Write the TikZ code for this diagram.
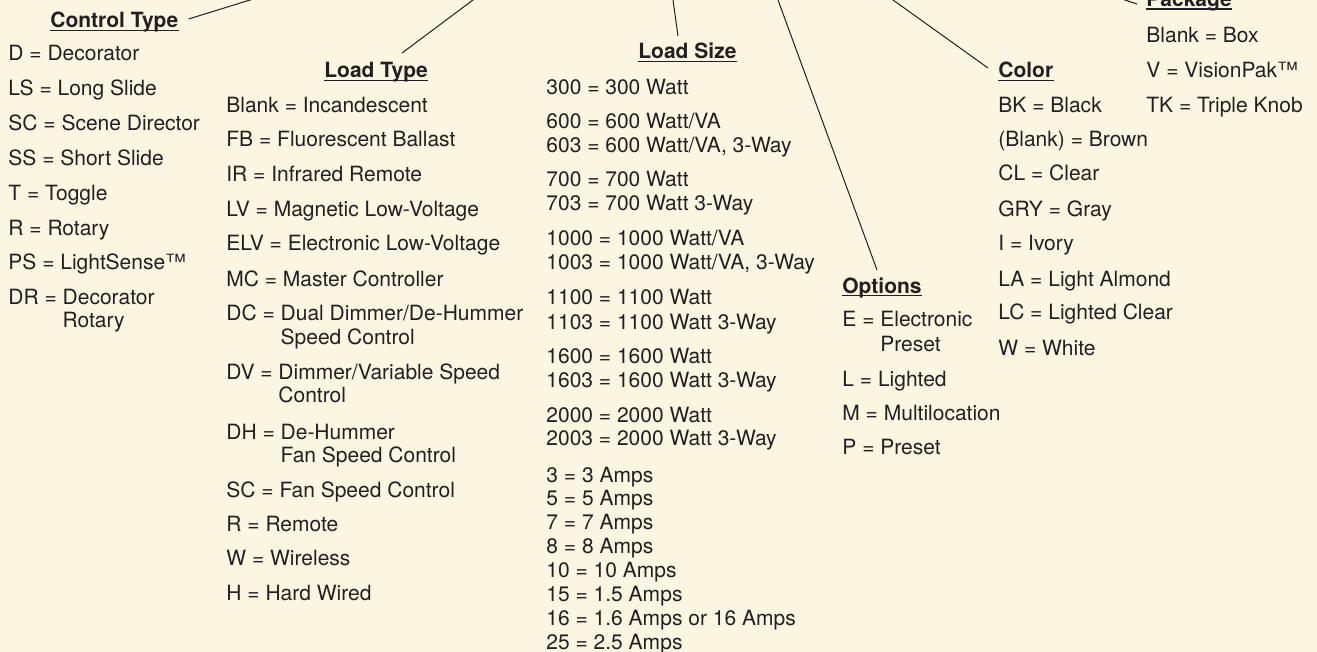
\documentclass[tikz,border=0pt]{standalone}
\usepackage{fontspec}
\setmainfont{TeX Gyre Heros}
\definecolor{ink}{RGB}{35,31,32}
\definecolor{paper}{RGB}{251,246,226}
\tikzset{
  item/.style={anchor=base west, inner sep=0pt, text=ink, font=\fontsize{10.5}{12}\selectfont},
  ttl/.style={anchor=base west, inner sep=0pt, text=ink, font=\fontsize{10.5}{12}\selectfont\bfseries},
  uline/.style={draw=ink, line width=0.65pt},
  conn/.style={draw=ink, line width=0.5pt, shorten <=-3pt}
}
\newcommand{\ul}[1]{\draw[uline] ([yshift=-1.25pt]#1.base west) -- ([yshift=-1.25pt]#1.base east);}
\begin{document}
\begin{tikzpicture}[x=0.5pt,y=-0.5pt]
\useasboundingbox (0,0) rectangle (1317,652);
\fill[paper] (0,0) rectangle (1317,652);
\clip (0,0) rectangle (1317,652);

% Control Type
\node[ttl] (ctT) at (50,28) {Control Type};
\node[item] (ct1) at (8,60.5) {D = Decorator};
\node[item] (ct2) at (8,95.5) {LS = Long Slide};
\node[item] (ct3) at (8,130.5) {SC = Scene Director};
\node[item] (ct4) at (8,165.5) {SS = Short Slide};
\node[item] (ct5) at (8,200.5) {T = Toggle};
\node[item] (ct6) at (8,235.5) {R = Rotary};
\node[item] (ct7) at (8,270) {PS = LightSense™};
\node[item] (ct8) at (8,305) {DR = Decorator};
\node[item] (ct8b) at (8,328) {\phantom{DR = }Rotary};

% Load Type
\node[ttl] (ltT) at (324,78) {Load Type};
\node[item] (lt1) at (226,113) {Blank = Incandescent};
\node[item] (lt2) at (226,146.5) {FB = Fluorescent Ballast};
\node[item] (lt3) at (226,182) {IR = Infrared Remote};
\node[item] (lt4) at (226,217) {LV = Magnetic Low-Voltage};
\node[item] (lt5) at (226,250.5) {ELV = Electronic Low-Voltage};
\node[item] (lt6) at (226,286) {MC = Master Controller};
\node[item] (lt7) at (226,320.5) {DC = Dual Dimmer/De-Hummer};
\node[item] (lt7b) at (226,344) {\phantom{DC = }Speed Control};
\node[item] (lt8) at (226,379.5) {DV = Dimmer/Variable Speed};
\node[item] (lt8b) at (226,402.5) {\phantom{DV = }Control};
\node[item] (lt9) at (226,439) {DH = De-Hummer};
\node[item] (lt9b) at (226,462) {\phantom{DH = }Fan Speed Control};
\node[item] (lt10) at (226,497) {SC = Fan Speed Control};
\node[item] (lt11) at (226,531) {R = Remote};
\node[item] (lt12) at (226,565.5) {W = Wireless};
\node[item] (lt13) at (226,600.5) {H = Hard Wired};

% Load Size
\node[ttl] (lsT) at (638,59) {Load Size};
\node[item] (ls1) at (546,95) {300 = 300 Watt};
\node[item] (ls2) at (546,129) {600 = 600 Watt/VA};
\node[item] (ls3) at (546,153) {603 = 600 Watt/VA, 3-Way};
\node[item] (ls4) at (546,187) {700 = 700 Watt};
\node[item] (ls5) at (546,211) {703 = 700 Watt 3-Way};
\node[item] (ls6) at (546,246) {1000 = 1000 Watt/VA};
\node[item] (ls7) at (546,270) {1003 = 1000 Watt/VA, 3-Way};
\node[item] (ls8) at (546,305) {1100 = 1100 Watt};
\node[item] (ls9) at (546,329) {1103 = 1100 Watt 3-Way};
\node[item] (ls10) at (546,363) {1600 = 1600 Watt};
\node[item] (ls11) at (546,387) {1603 = 1600 Watt 3-Way};
\node[item] (ls12) at (546,422) {2000 = 2000 Watt};
\node[item] (ls13) at (546,445) {2003 = 2000 Watt 3-Way};
\node[item] (ls14) at (546,482) {3 = 3 Amps};
\node[item] (ls15) at (546,505.9) {5 = 5 Amps};
\node[item] (ls16) at (546,529.8) {7 = 7 Amps};
\node[item] (ls17) at (546,553.7) {8 = 8 Amps};
\node[item] (ls18) at (546,577.6) {10 = 10 Amps};
\node[item] (ls19) at (546,601.5) {15 = 1.5 Amps};
\node[item] (ls20) at (546,625.4) {16 = 1.6 Amps or 16 Amps};
\node[item] (ls21) at (546,649.3) {25 = 2.5 Amps};

% Options
\node[ttl] (opT) at (842,293) {Options};
\node[item] (op1) at (842,327) {E = Electronic};
\node[item] (op1b) at (842,351) {\phantom{E = }Preset};
\node[item] (op2) at (842,386) {L = Lighted};
\node[item] (op3) at (842,420) {M = Multilocation};
\node[item] (op4) at (842,454) {P = Preset};

% Color
\node[ttl] (coT) at (998,78) {Color};
\node[item] (co1) at (998,113) {BK = Black};
\node[item] (co2) at (998,147) {(Blank) = Brown};
\node[item] (co3) at (998,181) {CL = Clear};
\node[item] (co4) at (998,217) {GRY = Gray};
\node[item] (co5) at (998,251) {I = Ivory};
\node[item] (co6) at (998,286) {LA = Light Almond};
\node[item] (co7) at (998,320) {LC = Lighted Clear};
\node[item] (co8) at (998,355) {W = White};

% Package
\node[ttl] (pkT) at (1146,6.5) {Package};
\node[item] (pk1) at (1146,42.5) {Blank = Box};
\node[item] (pk2) at (1146,77.5) {V = VisionPak™};
\node[item] (pk3) at (1146,112.3) {TK = Triple Knob};

% underlines
\ul{ctT}\ul{ltT}\ul{lsT}\ul{opT}\ul{coT}\ul{pkT}

% connectors
\coordinate (ctTop) at (250,0);
\coordinate (ltTop) at (473,0);
\coordinate (lsTop) at (673,0);
\coordinate (opTop) at (778,0);
\coordinate (coTop) at (893,0);
\coordinate (pkTop) at (1125,0);
\draw[conn] (ctTop) -- ([shift={(10,-9)}]ctT.base east);
\draw[conn] (ltTop) -- ([shift={(78,-25)}]ltT.base west);
\draw[conn] (lsTop) -- ([shift={(40,-23)}]lsT.base west);
\draw[conn] (opTop) -- ([shift={(35,-23)}]opT.base west);
\draw[conn] (coTop) -- ([shift={(-10,-10)}]coT.base west);
\draw[conn] (pkTop) -- ([shift={(-9,-2.5)}]pkT.base west);
\end{tikzpicture}
\end{document}
